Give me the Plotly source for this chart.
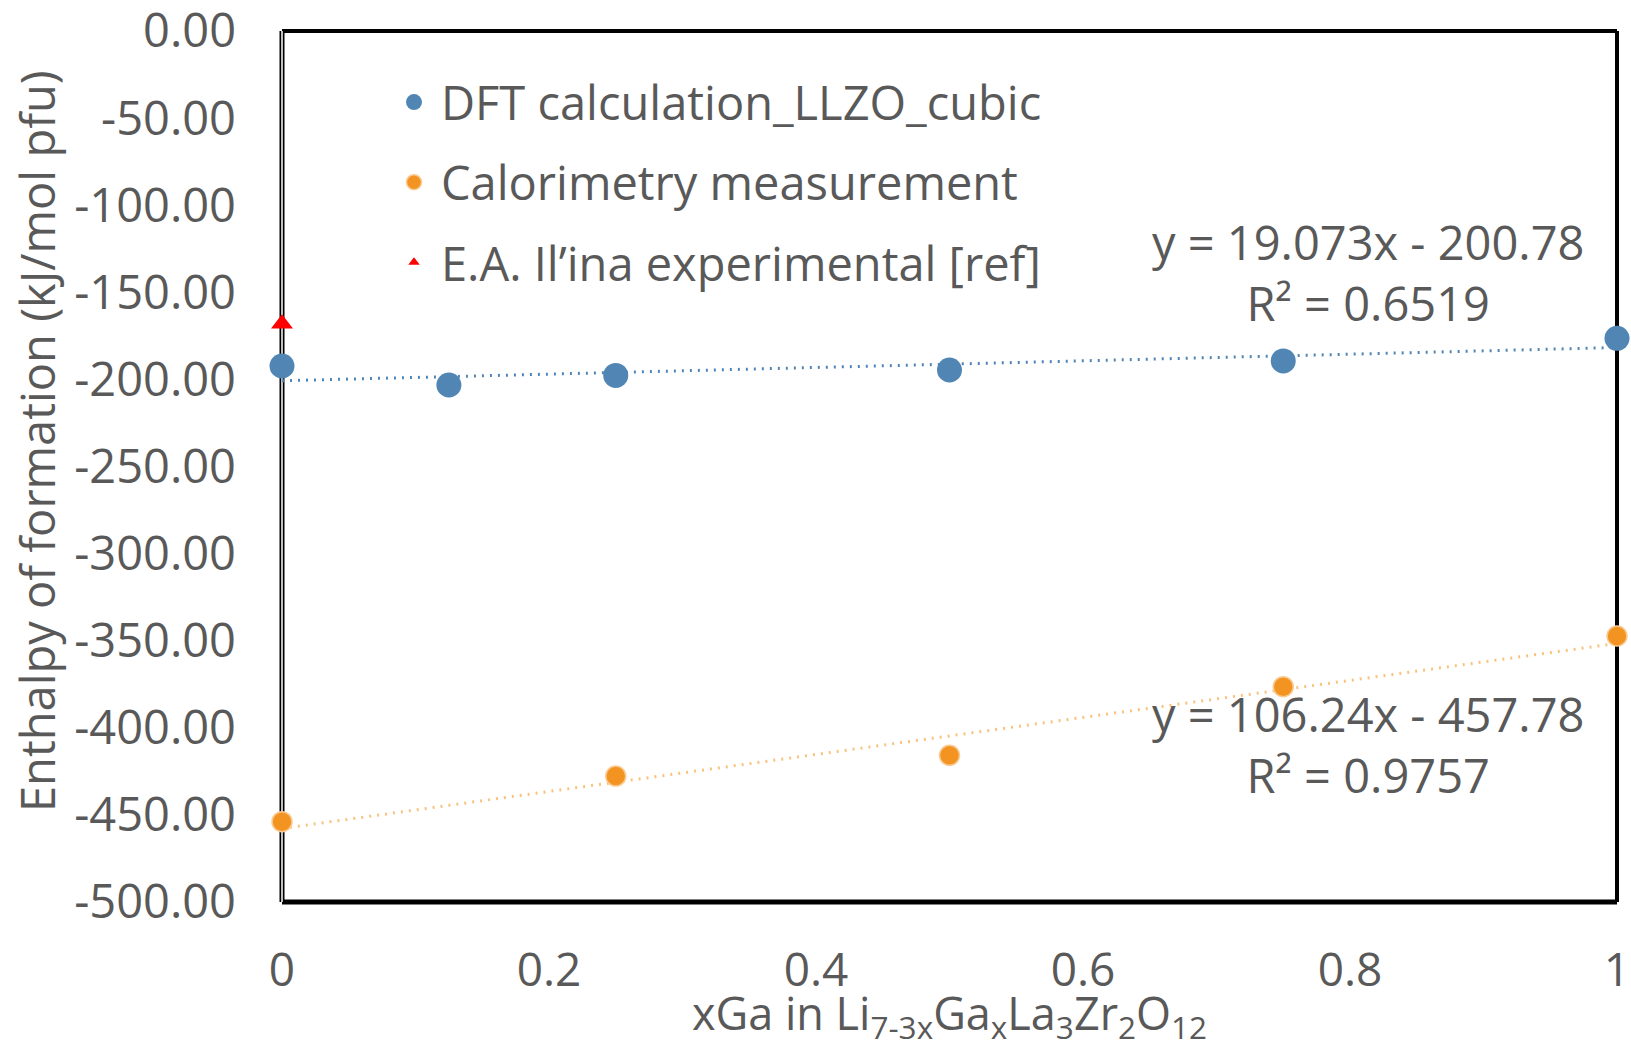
import plotly.graph_objects as go

# Composition (xGa) and enthalpy of formation (kJ/mol pfu)
dft_x = [0.0, 0.125, 0.25, 0.5, 0.75, 1.0]
dft_y = [-192.3, -203.2, -197.7, -194.6, -189.4, -176.4]

cal_x = [0.0, 0.25, 0.5, 0.75, 1.0]
cal_y = [-453.9, -427.7, -415.8, -376.4, -347.3]

ref_x = [0.0]
ref_y = [-168.0]

# Linear trendline coefficients (slope, intercept) and R^2
dft_fit = (19.073, -200.78, 0.6519)
cal_fit = (106.24, -457.78, 0.9757)

x_tick_vals = [0, 0.2, 0.4, 0.6, 0.8, 1]
x_tick_text = ["0", "0.2", "0.4", "0.6", "0.8", "1"]
y_tick_vals = [0, -50, -100, -150, -200, -250, -300, -350, -400, -450, -500]
y_tick_text = ["0.00", "-50.00", "-100.00", "-150.00", "-200.00", "-250.00",
               "-300.00", "-350.00", "-400.00", "-450.00", "-500.00"]

BLUE = "#5186B4"
ORANGE = "#F39422"
ORANGE_EDGE = "#F9CB94"
ORANGE_TREND = "#F8C37F"
RED = "#FF0000"
TEXT = "#595959"
FONT = "Open Sans"
FS = 47

W, H = 1631, 1043
ML, MR, MT, MB = 282, 14, 31, 141
PW = W - ML - MR
PH = H - MT - MB


def trend(fit, x0=0.0, x1=1.0):
    m, b, _ = fit
    return [x0, x1], [m * x0 + b, m * x1 + b]


fig = go.Figure()

# trendlines
tx, ty = trend(dft_fit)
fig.add_trace(go.Scatter(x=tx, y=ty, mode="lines", showlegend=False,
                         line=dict(color=BLUE, width=3, dash="2px,6px"),
                         hoverinfo="skip", cliponaxis=False))
tx, ty = trend(cal_fit)
fig.add_trace(go.Scatter(x=tx, y=ty, mode="lines", showlegend=False,
                         line=dict(color=ORANGE_TREND, width=3, dash="2px,6px"),
                         hoverinfo="skip", cliponaxis=False))

# data markers
fig.add_trace(go.Scatter(x=dft_x, y=dft_y, mode="markers", showlegend=False,
                         marker=dict(color=BLUE, size=25, line=dict(width=0)),
                         cliponaxis=False))
fig.add_trace(go.Scatter(x=cal_x, y=cal_y, mode="markers", showlegend=False,
                         marker=dict(color=ORANGE, size=20,
                                     line=dict(color=ORANGE_EDGE, width=1.5)),
                         cliponaxis=False))
fig.add_trace(go.Scatter(x=ref_x, y=ref_y, mode="markers", showlegend=False,
                         marker=dict(color=RED, symbol="triangle-up", size=19,
                                     line=dict(width=0)),
                         cliponaxis=False))

# legend entries
legend_items = [
    ("DFT calculation_LLZO_cubic", dict(color=BLUE, size=16, line=dict(width=0))),
    ("Calorimetry measurement", dict(color=ORANGE, size=15,
                                     line=dict(color=ORANGE_EDGE, width=1.5))),
    ("E.A. Il\u2019ina experimental [ref]", dict(color=RED, symbol="triangle-up",
                                                  size=10, line=dict(width=0))),
]
for i, (name, mk) in enumerate(legend_items):
    fig.add_trace(go.Scatter(x=[None], y=[None], mode="markers", name=name,
                             legendgroup=f"g{i}", marker=mk))

# plot border: thick black frame, double line on the left
line_style = dict(color="black", width=4)
fig.add_shape(type="line", xref="paper", yref="paper", x0=0, x1=1, y0=1, y1=1,
              line=line_style, layer="below")
fig.add_shape(type="line", xref="paper", yref="paper", x0=1, x1=1, y0=0, y1=1,
              line=line_style, layer="below")
fig.add_shape(type="line", xref="paper", yref="paper", x0=0, x1=1, y0=0, y1=0,
              line=dict(color="black", width=5), layer="below")
fig.add_shape(type="line", xref="paper", yref="paper", x0=0, x1=0, y0=0, y1=1,
              line=dict(color="black", width=5), layer="below")
fig.add_shape(type="line", xref="paper", yref="paper", x0=0, x1=0, y0=0, y1=1,
              line=dict(color="white", width=1.5), layer="below")

# trendline equations
def eq_text(fit):
    m, b, r2 = fit
    sign = "-" if b < 0 else "+"
    return f"y = {m:g}x {sign} {abs(b):.2f}<br>R\u00b2 = {r2:.4f}"


for fit, ypx in ((dft_fit, 272), (cal_fit, 744)):
    fig.add_annotation(text=eq_text(fit), xref="paper", yref="paper",
                       x=(1368 - ML) / PW, y=(MT + PH - ypx) / PH,
                       xanchor="center", yanchor="middle", showarrow=False,
                       align="center", font=dict(family=FONT, size=FS, color=TEXT))

# axis titles
fig.add_annotation(text="Enthalpy of formation (kJ/mol pfu)", xref="paper", yref="paper",
                   x=(37 - ML) / PW, y=(MT + PH - 441) / PH, textangle=-90,
                   xanchor="center", yanchor="middle", showarrow=False,
                   font=dict(family=FONT, size=FS, color=TEXT))
fig.add_annotation(text="xGa in Li<sub>7-3x</sub>Ga<sub>x</sub>La<sub>3</sub>Zr<sub>2</sub>O<sub>12</sub>",
                   xref="paper", yref="paper",
                   x=0.5, y=(MT + PH - 1015) / PH,
                   xanchor="center", yanchor="middle", showarrow=False,
                   font=dict(family=FONT, size=45, color=TEXT))

fig.update_layout(
    width=W, height=H,
    margin=dict(l=ML, r=MR, t=MT, b=MB, pad=0, autoexpand=False),
    paper_bgcolor="white", plot_bgcolor="white",
    font=dict(family=FONT, size=FS, color=TEXT),
    showlegend=True,
    legend=dict(x=(387 - ML) / PW, y=(MT + PH - 65) / PH, xanchor="left", yanchor="top",
                bgcolor="rgba(0,0,0,0)", borderwidth=0, itemwidth=44,
                tracegroupgap=16, font=dict(family=FONT, size=FS, color=TEXT)),
    xaxis=dict(range=[0, 1], tickvals=x_tick_vals, ticktext=x_tick_text,
               showgrid=False, zeroline=False, showline=False, ticks="",
               automargin=False, ticklabeloverflow="allow",
               ticklabelstandoff=37, tickfont=dict(family=FONT, size=46, color=TEXT)),
    yaxis=dict(range=[-500, 0], tickvals=y_tick_vals, ticktext=y_tick_text,
               showgrid=False, zeroline=False, showline=False, ticks="",
               automargin=False, ticklabeloverflow="allow",
               ticklabelstandoff=45, tickfont=dict(family=FONT, size=FS, color=TEXT)),
)

fig.write_html("out.html")
